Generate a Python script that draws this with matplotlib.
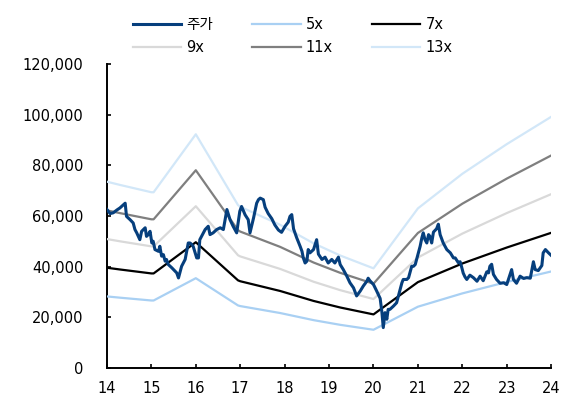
import matplotlib
matplotlib.use('Agg')
import matplotlib.pyplot as plt
from matplotlib.ticker import FuncFormatter

plt.rcParams['font.family'] = ['DejaVu Sans', 'Noto Sans CJK KR']

# ---------------- data ----------------
# EPS anchor points (year, won) - bands are multiple x EPS
eps_year = [14.0, 14.3, 15.0, 15.05, 16.0, 16.95, 17.0, 17.9, 18.65, 19.25, 20.0,
            21.0, 22.0, 23.0, 24.0]
eps_val = [5660, 5560, 5340, 5340, 7100, 4950, 4900, 4350, 3790, 3420, 3030,
           4850, 5900, 6800, 7630]
multiples = [5, 7, 9, 11, 13]

# stock price (year, thousand won)
price_year = [14.00, 14.07, 14.14, 14.23, 14.29, 14.37, 14.41, 14.44, 14.52, 14.59,
              14.63, 14.67, 14.74, 14.78, 14.82, 14.86, 14.89, 14.93, 14.97, 15.01,
              15.04, 15.08, 15.16, 15.19, 15.23, 15.27, 15.31, 15.34, 15.38, 15.46,
              15.57, 15.61, 15.68, 15.76, 15.83, 15.87, 15.91, 15.94, 16.02, 16.06,
              16.09, 16.17, 16.21, 16.28, 16.32, 16.39, 16.47, 16.55, 16.62, 16.70,
              16.77, 16.84, 16.92, 16.99, 17.03, 17.11, 17.18, 17.22, 17.30, 17.37,
              17.41, 17.45, 17.52, 17.56, 17.63, 17.71, 17.78, 17.86, 17.93, 18.01,
              18.08, 18.12, 18.16, 18.20, 18.27, 18.35, 18.39, 18.42, 18.46, 18.50,
              18.53, 18.57, 18.65, 18.72, 18.76, 18.84, 18.91, 18.98, 19.06, 19.13,
              19.21, 19.25, 19.32, 19.40, 19.47, 19.55, 19.62, 19.70, 19.77, 19.85,
              19.88, 19.92, 20.00, 20.07, 20.15, 20.19, 20.22, 20.26, 20.30, 20.33,
              20.37, 20.45, 20.52, 20.56, 20.60, 20.64, 20.67, 20.75, 20.79, 20.82,
              20.86, 20.90, 20.94, 20.97, 21.01, 21.05, 21.09, 21.12, 21.16, 21.20,
              21.24, 21.27, 21.31, 21.35, 21.42, 21.46, 21.50, 21.57, 21.65, 21.73,
              21.80, 21.84, 21.91, 21.95, 21.98, 22.02, 22.06, 22.10, 22.17, 22.25,
              22.33, 22.40, 22.47, 22.55, 22.59, 22.62, 22.66, 22.70, 22.77, 22.85,
              22.93, 23.00, 23.07, 23.11, 23.15, 23.22, 23.30, 23.38, 23.45, 23.53,
              23.56, 23.60, 23.64, 23.71, 23.79, 23.82, 23.87, 23.94, 24.00]
price_k = [62.6, 61.0, 61.3, 62.5, 63.2, 64.5, 65.1, 59.9, 58.6, 57.3,
           54.7, 53.4, 50.7, 54.0, 54.7, 55.4, 52.0, 52.7, 54.0, 49.4,
           50.1, 46.8, 46.1, 48.1, 44.2, 44.8, 42.2, 42.9, 40.9, 39.6,
           37.6, 35.6, 40.2, 42.9, 49.4, 49.4, 48.8, 48.1, 43.5, 43.5,
           50.7, 53.4, 54.7, 56.0, 52.7, 53.4, 54.7, 55.4, 54.7, 62.6,
           58.6, 56.0, 53.4, 61.9, 63.8, 60.5, 58.6, 53.4, 59.3, 65.1,
           66.5, 67.1, 66.5, 63.5, 61.0, 59.0, 56.5, 54.5, 53.6, 56.0,
           57.6, 59.9, 60.6, 55.0, 51.5, 48.0, 46.1, 43.5, 41.5, 42.2,
           46.8, 45.5, 46.8, 50.7, 45.0, 42.9, 43.8, 41.5, 42.9, 41.5,
           43.8, 40.9, 38.9, 36.3, 33.7, 31.7, 28.5, 30.4, 32.4, 34.3,
           35.5, 34.5, 33.0, 30.5, 27.5, 22.0, 16.0, 21.9, 19.3, 23.2,
           23.2, 24.5, 25.8, 28.4, 31.1, 33.7, 35.0, 35.0, 35.7, 37.6,
           40.2, 40.2, 40.9, 42.9, 45.5, 48.1, 51.5, 53.4, 50.7, 49.4,
           52.7, 52.0, 49.4, 53.7, 55.0, 56.8, 52.7, 49.4, 46.8, 45.5,
           43.5, 43.5, 41.6, 42.0, 40.2, 37.5, 36.0, 35.0, 36.7, 35.7,
           34.3, 36.3, 34.5, 38.0, 37.6, 40.2, 41.0, 37.0, 35.0, 33.5,
           33.7, 33.0, 36.8, 38.9, 35.0, 33.5, 36.3, 35.4, 35.7, 35.5,
           38.3, 42.0, 38.9, 38.5, 40.5, 45.5, 46.8, 45.5, 44.5]

year_ticks = list(range(14, 25))
y_ticks = [0, 20000, 40000, 60000, 80000, 100000, 120000]

band_colors = ['#A9D0F3', '#000000', '#D9D9D9', '#7F7F7F', '#D2E7F8']
price_color = '#063F7D'

# ---------------- figure ----------------
fig = plt.figure(figsize=(5.63, 3.98), dpi=100)
ax = fig.add_axes([0.190, 0.075, 0.789, 0.764])

lines = {}
price = [p * 1000 for p in price_k]
lines['주가'] = ax.plot(price_year, price, color=price_color, lw=2.2, zorder=5)[0]
for m, c in zip(multiples, band_colors):
    band = [m * e for e in eps_val]
    lines['%dx' % m] = ax.plot(eps_year, band, color=c, lw=1.6, zorder=3)[0]

ax.set_xlim(14, 24)
ax.set_ylim(0, 120000)
ax.set_xticks(year_ticks)
ax.set_yticks(y_ticks)
ax.yaxis.set_major_formatter(FuncFormatter(lambda v, p: '{:,.0f}'.format(v)))

for s in ['top', 'right']:
    ax.spines[s].set_visible(False)
for s in ['left', 'bottom']:
    ax.spines[s].set_linewidth(1.4)
ax.tick_params(axis='both', direction='in', length=3, width=1.2, labelsize=10.5, colors='black')
ax.tick_params(axis='y', pad=17)
ax.tick_params(axis='x', pad=9)

# legend - row order 주가 5x 7x / 9x 11x 13x (matplotlib fills by column)
order = ['주가', '9x', '5x', '11x', '7x', '13x']
fig.legend([lines[k] for k in order], order, ncol=3, frameon=False,
           loc='center', bbox_to_anchor=(0.520, 0.91), fontsize=10.5,
           handlelength=3.3, handletextpad=0.35, columnspacing=2.7,
           labelspacing=0.55)

fig.savefig('out.png', dpi=100)
